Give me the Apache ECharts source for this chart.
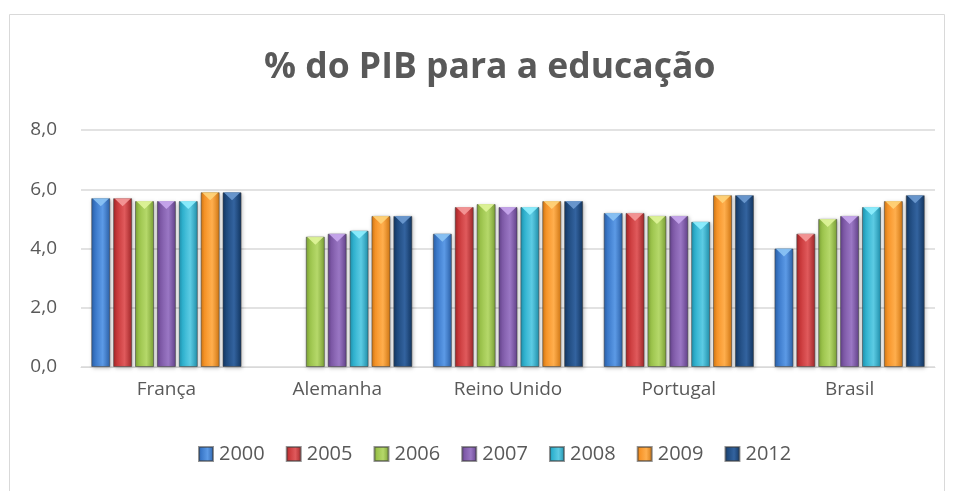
<!DOCTYPE html>
<html><head><meta charset="utf-8">
<script src="https://cdn.jsdelivr.net/npm/echarts@6/dist/echarts.min.js"></script>
<style>html,body{margin:0;padding:0;background:#fff}#c{width:955px;height:491px}</style>
</head><body><div id="c"></div>
<script>
const categories = ['França','Alemanha','Reino Unido','Portugal','Brasil'];
const years = ['2000','2005','2006','2007','2008','2009','2012'];
const s2000 = [5.7, null, 4.5, 5.2, 4.0];
const s2005 = [5.7, null, 5.4, 5.2, 4.5];
const s2006 = [5.6, 4.4, 5.5, 5.1, 5.0];
const s2007 = [5.6, 4.5, 5.4, 5.1, 5.1];
const s2008 = [5.6, 4.6, 5.4, 4.9, 5.4];
const s2009 = [5.9, 5.1, 5.6, 5.8, 5.6];
const s2012 = [5.9, 5.1, 5.6, 5.8, 5.8];
const seriesData = [s2000, s2005, s2006, s2007, s2008, s2009, s2012];
const colors = [
  ['#5c9ae6','#3a78c9','#2a5fa6','#8cc4f5'],
  ['#e05a5c','#c9383a','#a02628','#f59a9a'],
  ['#b5d86a','#9bc34b','#7aa034','#e0f59a'],
  ['#9a77c4','#7f5aa8','#62418a','#c9a8ee'],
  ['#5ccbe3','#2fb2cf','#1f8fab','#8ff0ff'],
  ['#ffae4d','#f79428','#d07612','#ffd47a'],
  ['#33639f','#1f4a7e','#123560','#6e9bd2']
];
const chart = echarts.init(document.getElementById('c'));
const fmt = v => v.toFixed(1).replace('.', ',');
const gap = {barGap:'15%', barCategoryGap:'12%'};
const bars = years.map((y,i)=>Object.assign({
    name:y, type:'bar', data:seriesData[i],
    itemStyle:{
      color:{type:'linear', x:0,y:0,x2:1,y2:0, colorStops:[
        {offset:0,color:colors[i][2]},{offset:0.2,color:colors[i][1]},
        {offset:0.6,color:colors[i][0]},{offset:1,color:colors[i][2]}]},
      borderColor:'rgba(60,60,60,0.55)', borderWidth:1,
      shadowColor:'rgba(0,0,0,0.25)', shadowBlur:4, shadowOffsetX:1, shadowOffsetY:1
    }
  }, gap));
const caps = years.map((y,i)=>Object.assign({
    name:y, type:'pictorialBar', data:seriesData[i], z:3,
    symbol:'path://M0,0 L10,0 L5,4 Z', symbolPosition:'end', symbolSize:['88%',8],
    symbolOffset:[0,'0%'],
    itemStyle:{color:colors[i][3], opacity:0.9}
  }, gap));
chart.setOption({
  animation: false,
  graphic: [{type:'rect', shape:{x:9.5,y:14.5,width:935,height:490}, style:{fill:'none', stroke:'#d9d9d9', lineWidth:1}}],
  title: {text:'% do PIB para a educação', left:259, top:45,
    textStyle:{fontFamily:'Open Sans', fontWeight:'bold', fontSize:35.5, color:'#595959'}},
  legend: {bottom:22, left:193, itemWidth:14, itemHeight:14, itemGap:21,
    textStyle:{fontFamily:'Open Sans', fontSize:20, color:'#595959', padding:[0,0,0,1]},
    data: years.map(y=>({name:y, icon:'rect'}))},
  grid: {left:81, right:20, top:130, bottom:124},
  xAxis: {type:'category', data:categories,
    axisLine:{lineStyle:{color:'#d9d9d9'}}, axisTick:{show:false},
    axisLabel:{fontFamily:'Open Sans', fontSize:19, color:'#595959', margin:13}},
  yAxis: {type:'value', min:0, max:8, interval:2,
    axisLabel:{formatter:fmt, fontFamily:'Open Sans', fontSize:19, color:'#595959', margin:24},
    splitLine:{lineStyle:{color:'#d9d9d9', width:1.5}}},
  series: bars.concat(caps)
});
</script></body></html>
